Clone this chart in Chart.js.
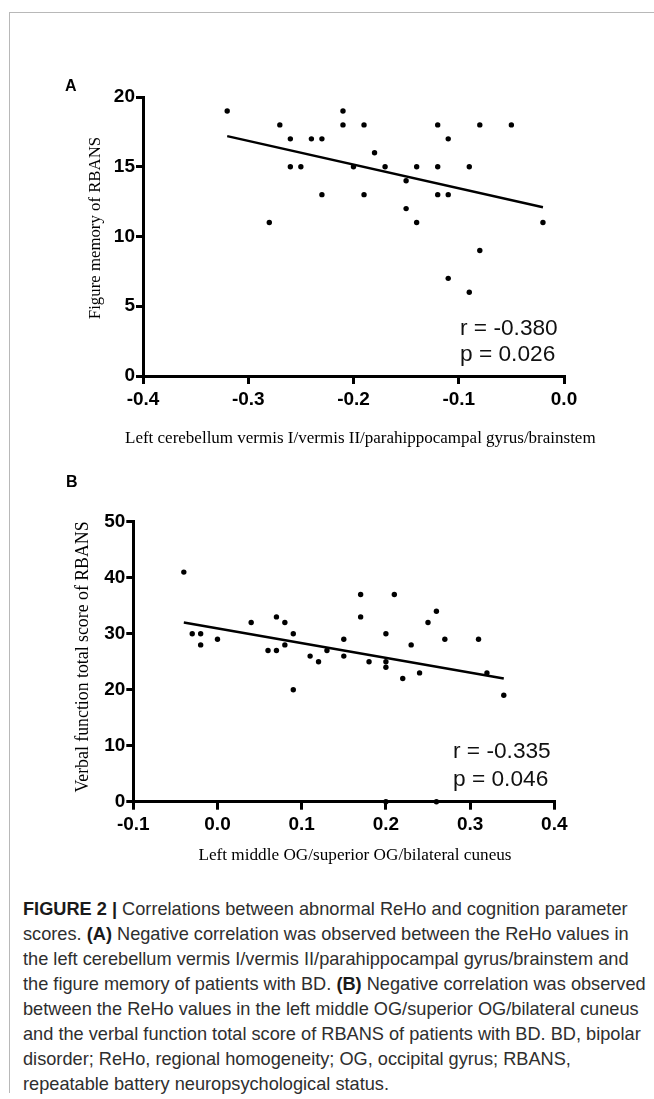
<!DOCTYPE html>
<html>
<head>
<meta charset="utf-8">
<script src="https://cdn.jsdelivr.net/npm/chart.js@4.4.1/dist/chart.umd.min.js"></script>
<style>
  html, body { margin: 0; padding: 0; background: #fff; }
  #page { position: relative; width: 654px; height: 1099px; overflow: hidden; background: #fff; }
  canvas { position: absolute; left: 0; }
  .t { position: absolute; white-space: nowrap; line-height: 1; color: #000; }
  .sans { font-family: "Liberation Sans", Arial, sans-serif; }
  .serif { font-family: "Liberation Serif", "Times New Roman", serif; }
  .rot { transform: translate(-50%, -50%) rotate(-90deg); }
  .lbl { font-weight: bold; font-size: 16px; }
  .stat { font-size: 22.7px; color: #111; }
  #caption { position: absolute; left: 23px; font-family: "Liberation Sans", Arial, sans-serif; font-size: 18.2px; line-height: 25px; color: #2e2e2e; white-space: nowrap; }
  #caption b { color: #1a1a1a; }
</style>
</head>
<body>
<div id="page">
  <div style="position:absolute;left:9px;top:12px;width:645px;height:0;border-top:1px solid #b8b8b8"></div>
  <div style="position:absolute;left:9px;top:12px;width:0;height:1081px;border-left:1px solid #b8b8b8"></div>

  <canvas id="chartA" width="654" height="460" style="top:0"></canvas>
  <canvas id="chartB" width="654" height="420" style="top:460px"></canvas>

  <div class="t sans lbl" style="left:65px;top:78.4px">A</div>
  <div class="t sans lbl" style="left:66px;top:474.4px">B</div>

  <div class="t serif rot" style="left:95px;top:228px;font-size:16.8px">Figure memory of RBANS</div>
  <div class="t serif" style="left:125px;top:428.8px;font-size:17px">Left cerebellum vermis I/vermis II/parahippocampal gyrus/brainstem</div>
  <div class="t sans stat" style="left:460px;top:314.2px;line-height:26px">r = -0.380<br>p = 0.026</div>

  <div class="t serif rot" style="left:83px;top:657px;font-size:17.8px">Verbal function total score of RBANS</div>
  <div class="t serif" style="left:355px;top:845.6px;font-size:17.2px;transform:translateX(-50%)">Left middle OG/superior OG/bilateral cuneus</div>
  <div class="t sans stat" style="left:453px;top:736.1px;line-height:28px">r = -0.335<br>p = 0.046</div>

  <div id="caption" style="top:897.2px"><b>FIGURE 2 |</b> Correlations between abnormal ReHo and cognition parameter<br>scores. <b>(A)</b> Negative correlation was observed between the ReHo values in<br>the left cerebellum vermis I/vermis II/parahippocampal gyrus/brainstem and<br>the figure memory of patients with BD. <b>(B)</b> Negative correlation was observed<br>between the ReHo values in the left middle OG/superior OG/bilateral cuneus<br>and the verbal function total score of RBANS of patients with BD. BD, bipolar<br>disorder; ReHo, regional homogeneity; OG, occipital gyrus; RBANS,<br>repeatable battery neuropsychological status.</div>
</div>

<script>
// ---------- Panel A data ----------
const xA = [-0.32,-0.28,-0.27,-0.26,-0.26,-0.25,-0.24,-0.23,-0.23,-0.21,-0.21,-0.20,-0.19,-0.19,-0.18,-0.17,-0.15,-0.15,-0.14,-0.14,-0.12,-0.12,-0.12,-0.11,-0.11,-0.11,-0.09,-0.09,-0.08,-0.08,-0.05,-0.02];
const yA = [19,11,18,17,15,15,17,17,13,19,18,15,18,13,16,15,14,12,15,11,18,15,13,17,13,7,15,6,18,9,18,11];
const fitAX = [-0.32, -0.02];
const fitAY = [17.2, 12.1];
const xTicksA = [-0.4, -0.3, -0.2, -0.1, 0.0];
const yTicksA = [0, 5, 10, 15, 20];

// ---------- Panel B data ----------
const xB = [-0.04,-0.03,-0.02,-0.02,0.00,0.04,0.06,0.07,0.07,0.08,0.08,0.09,0.09,0.11,0.12,0.13,0.15,0.15,0.17,0.17,0.18,0.20,0.20,0.20,0.21,0.22,0.23,0.24,0.25,0.26,0.27,0.31,0.32,0.34,0.20,0.26];
const yB = [41,30,30,28,29,32,27,33,27,32,28,30,20,26,25,27,29,26,37,33,25,30,25,24,37,22,28,23,32,34,29,29,23,19,0,0];
const fitBX = [-0.04, 0.34];
const fitBY = [32.0, 22.0];
const xTicksB = [-0.1, 0.0, 0.1, 0.2, 0.3, 0.4];
const yTicksB = [0, 10, 20, 30, 40, 50];

const tickFont = { family: '"Liberation Sans", Arial, sans-serif', size: 19, weight: 'bold' };

function pts(xs, ys) { return xs.map((x, i) => ({ x: x, y: ys[i] })); }

function makeChart(id, xs, ys, fx, fy, xt, yt, geom) {
  const ctx = document.getElementById(id).getContext('2d');
  return new Chart(ctx, {
    type: 'scatter',
    data: {
      datasets: [
        { data: pts(xs, ys), pointRadius: 2.7, pointBackgroundColor: '#000', pointBorderWidth: 0, showLine: false, clip: false },
        { type: 'line', data: pts(fx, fy), borderColor: '#000', borderWidth: 2.4, pointRadius: 0, fill: false, clip: false }
      ]
    },
    options: {
      responsive: false,
      animation: false,
      devicePixelRatio: 1,
      events: [],
      layout: { padding: { top: geom.top, right: geom.right, bottom: 0, left: 0 } },
      plugins: { legend: { display: false }, tooltip: { enabled: false } },
      scales: {
        x: {
          type: 'linear',
          min: xt[0], max: xt[xt.length - 1],
          afterBuildTicks: s => { s.ticks = xt.map(v => ({ value: v })); },
          afterFit: s => { s.height = geom.xh; },
          ticks: { font: tickFont, color: '#000', padding: 4, maxRotation: 0, autoSkip: false,
                   callback: v => Number(v).toFixed(1) },
          grid: { display: true, drawOnChartArea: false, drawTicks: true, tickLength: 8, tickWidth: 3, tickColor: '#000', color: '#000', lineWidth: 3 },
          border: { display: true, color: '#000', width: 3 }
        },
        y: {
          type: 'linear',
          min: yt[0], max: yt[yt.length - 1],
          afterBuildTicks: s => { s.ticks = yt.map(v => ({ value: v })); },
          afterFit: s => { s.width = geom.yw; },
          ticks: { font: tickFont, color: '#000', padding: 1, autoSkip: false, callback: v => String(v) },
          grid: { display: true, drawOnChartArea: false, drawTicks: true, tickLength: 7, tickWidth: 3, tickColor: '#000', color: '#000', lineWidth: 3 },
          border: { display: true, color: '#000', width: 3 }
        }
      }
    }
  });
}

// Panel A plot area: x 143..564, y 97..376 (canvas height 460)
makeChart('chartA', xA, yA, fitAX, fitAY, xTicksA, yTicksA, { top: 97, right: 90, xh: 84, yw: 143 });
// Panel B plot area: x 133.3..554.3, y 521.7..801.7 (canvas top 460, height 420)
makeChart('chartB', xB, yB, fitBX, fitBY, xTicksB, yTicksB, { top: 61.7, right: 99.7, xh: 78.3, yw: 133.3 });
</script>
</body>
</html>
